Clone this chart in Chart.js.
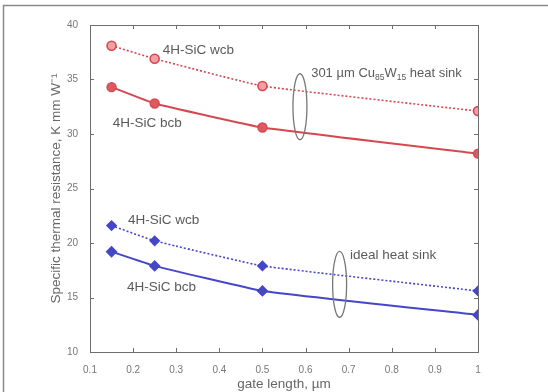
<!DOCTYPE html>
<html lang="en">
<head>
<meta charset="UTF-8">
<title>Specific thermal resistance vs gate length</title>
<script src="https://cdn.jsdelivr.net/npm/chart.js"></script>
<style>
  body { margin: 0; background: #fff; }
  #wrap { width: 548px; height: 392px; position: relative; }
</style>
</head>
<body>
<div id="wrap"><canvas id="myChart"></canvas></div>
<script>
    // gate length, um
    var gateLength = [0.15, 0.25, 0.5, 1]
    // CuW heat sink (red)
    var cuwWcb = [38.1, 36.9, 34.4, 32.1]
    var cuwBcb = [34.3, 32.8, 30.6, 28.2]
    // ideal heat sink (blue)
    var idealWcb = [21.6, 20.2, 17.9, 15.6]
    var idealBcb = [19.2, 17.9, 15.6, 13.4]

    var xTicks = [0.1, 0.2, 0.3, 0.4, 0.5, 0.6, 0.7, 0.8, 0.9, 1]
    var yTicks = [10, 15, 20, 25, 30, 35, 40]

    // text notes, in data units
    var noteText = ['4H-SiC wcb', '4H-SiC bcb', '4H-SiC wcb', '4H-SiC bcb', 'ideal heat sink']
    var noteX = [0.269, 0.153, 0.188, 0.186, 0.703]
    var noteY = [37.7, 31.0, 22.1, 15.9, 18.9]
    // ellipses grouping the curves
    var ringX = [0.587, 0.679]
    var ringY = [32.5, 16.2]

    var red = 'rgb(214,72,80)'
    var blue = 'rgb(70,70,200)'
    var font = '"Liberation Sans", Arial, sans-serif'

    function pts(ys) {
        var out = []
        for (var i = 0; i < gateLength.length; i++) {
            out.push({ x: gateLength[i], y: ys[i] })
        }
        return out
    }

    const notes = {
        id: 'notes',
        afterDraw(chart) {
            const ctx = chart.ctx
            const xs = chart.scales.x
            const ys = chart.scales.y
            const a = chart.chartArea

            // outer figure border
            ctx.save()
            ctx.strokeStyle = '#8a8a8a'
            ctx.lineWidth = 1.5
            ctx.strokeRect(3.5, 5.5, 560, 400)

            // axes box + inward ticks on all four sides
            ctx.strokeStyle = '#6e6e6e'
            ctx.lineWidth = 1
            ctx.strokeRect(a.left + 0.5, a.top + 0.5, a.right - a.left, a.bottom - a.top)
            ctx.beginPath()
            xTicks.forEach(function (v) {
                var px = Math.round(xs.getPixelForValue(v)) + 0.5
                ctx.moveTo(px, a.bottom); ctx.lineTo(px, a.bottom - 4)
                ctx.moveTo(px, a.top); ctx.lineTo(px, a.top + 4)
            })
            yTicks.forEach(function (v) {
                var py = Math.round(ys.getPixelForValue(v)) + 0.5
                ctx.moveTo(a.left, py); ctx.lineTo(a.left + 4, py)
                ctx.moveTo(a.right, py); ctx.lineTo(a.right - 4, py)
            })
            ctx.stroke()

            // ellipses
            ctx.strokeStyle = '#777'
            ctx.lineWidth = 1.3
            for (var i = 0; i < ringX.length; i++) {
                ctx.beginPath()
                ctx.ellipse(xs.getPixelForValue(ringX[i]), ys.getPixelForValue(ringY[i]), 7, 33, 0, 0, Math.PI * 2)
                ctx.stroke()
            }

            // labels
            ctx.fillStyle = '#5a5a5a'
            ctx.font = '13.5px ' + font
            ctx.textBaseline = 'middle'
            ctx.textAlign = 'left'
            for (var j = 0; j < noteText.length; j++) {
                ctx.fillText(noteText[j], xs.getPixelForValue(noteX[j]), ys.getPixelForValue(noteY[j]))
            }
            // 301 um Cu85W15 heat sink, with subscripts
            var px = xs.getPixelForValue(0.613)
            var py = ys.getPixelForValue(35.6)
            var parts = [['301 µm Cu', 0], ['85', 1], ['W', 0], ['15', 1], [' heat sink', 0]]
            parts.forEach(function (p) {
                ctx.font = (p[1] ? '8.5px ' : '13px ') + font
                ctx.fillText(p[0], px, py + (p[1] ? 5 : 0))
                px += ctx.measureText(p[0]).width
            })
            ctx.restore()
        }
    }

    const config = {
        type: 'line',
        data: {
            datasets: [
                {
                    label: 'CuW wcb', data: pts(cuwWcb), borderColor: red, borderWidth: 1.6,
                    borderDash: [2, 2], pointStyle: 'circle', pointRadius: 4.5,
                    pointBackgroundColor: 'rgb(240,160,165)', pointBorderColor: red, pointBorderWidth: 1.6,
                    tension: 0.1
                },
                {
                    label: 'CuW bcb', data: pts(cuwBcb), borderColor: red, borderWidth: 2,
                    pointStyle: 'circle', pointRadius: 4.5,
                    pointBackgroundColor: 'rgb(222,90,98)', pointBorderColor: red, pointBorderWidth: 1.4,
                    tension: 0.1
                },
                {
                    label: 'ideal wcb', data: pts(idealWcb), borderColor: blue, borderWidth: 1.6,
                    borderDash: [2, 2], pointStyle: 'rectRot', pointRadius: 4.5,
                    pointBackgroundColor: blue, pointBorderColor: blue,
                    tension: 0.1
                },
                {
                    label: 'ideal bcb', data: pts(idealBcb), borderColor: blue, borderWidth: 2,
                    pointStyle: 'rectRot', pointRadius: 4.5,
                    pointBackgroundColor: blue, pointBorderColor: blue,
                    tension: 0.1
                }
            ]
        },
        options: {
            responsive: true,
            maintainAspectRatio: false,
            animation: false,
            layout: { padding: { left: 48, top: 25, right: 70, bottom: 0 } },
            plugins: { legend: { display: false }, tooltip: { enabled: false } },
            scales: {
                x: {
                    type: 'linear', min: 0.1, max: 1,
                    afterBuildTicks: function (s) { s.ticks = xTicks.map(function (v) { return { value: v } }) },
                    afterFit: function (s) { s.height = 40 },
                    grid: { display: false },
                    border: { display: false },
                    ticks: {
                        color: '#777', padding: 4,
                        font: { size: 10, family: font },
                        callback: function (v) { return String(+v.toFixed(1)) }
                    },
                    title: {
                        display: true, text: 'gate length, µm', color: '#666',
                        font: { size: 13.5, family: font },
                        padding: { top: 0, bottom: 0 }
                    }
                },
                y: {
                    type: 'linear', min: 10, max: 40,
                    afterBuildTicks: function (s) { s.ticks = yTicks.map(function (v) { return { value: v } }) },
                    afterFit: function (s) { s.width = 42 },
                    grid: { display: false },
                    border: { display: false },
                    ticks: {
                        color: '#777', padding: 4,
                        font: { size: 10, family: font }
                    },
                    title: {
                        display: true, text: 'Specific thermal resistance, K mm W⁻¹', color: '#666',
                        font: { size: 13.5, family: font },
                        padding: { top: 0, bottom: 0 }
                    }
                }
            }
        },
        plugins: [notes]
    }

    let myChart = new Chart(document.getElementById('myChart'), config)
</script>
</body>
</html>
